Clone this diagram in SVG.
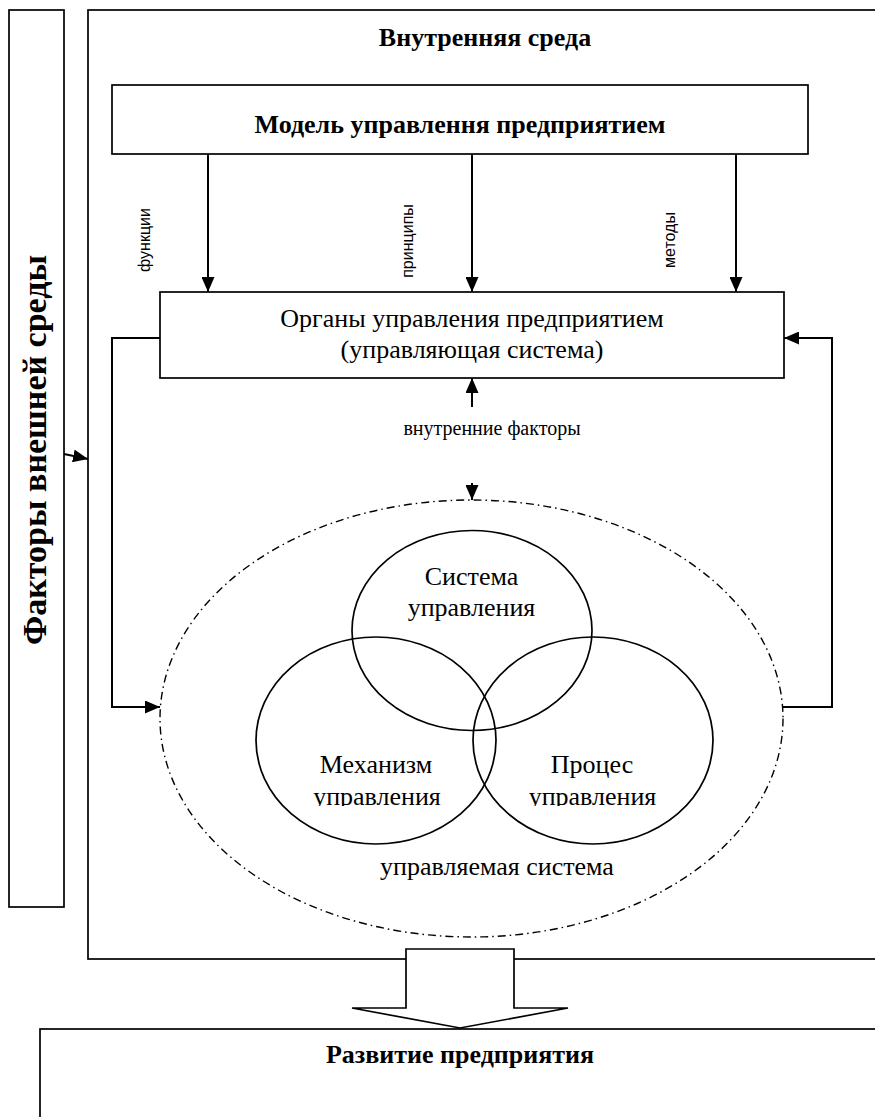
<svg xmlns="http://www.w3.org/2000/svg" width="875" height="1117" viewBox="0 0 875 1117">
<style>
.box{fill:#fff;stroke:#000;stroke-width:1.7}
.ell{fill:none;stroke:#000;stroke-width:1.7}
.dash{fill:none;stroke:#000;stroke-width:1.4;stroke-dasharray:8 4 1.5 4}
.ln{fill:none;stroke:#000;stroke-width:2}
.ser{font-family:"Liberation Serif","Times New Roman",serif;fill:#000}
.b{font-weight:bold}
.sans{font-family:"Liberation Sans",Arial,sans-serif;fill:#000;font-size:16px}
</style>
<defs>
<marker id="ah" viewBox="0 0 15 13" refX="15" refY="6.5" markerWidth="15" markerHeight="13" markerUnits="userSpaceOnUse" orient="auto">
<path d="M0,0 L15,6.5 L0,13 z" fill="#000"/>
</marker>
<clipPath id="cut"><rect x="0" y="0" width="875" height="806"/></clipPath>
</defs>

<g id="external">
<rect class="box" x="9" y="10" width="55" height="897"/>
<text class="ser b" font-size="34" text-anchor="middle" transform="translate(46,450) rotate(-90)">Факторы внешней среды</text>
</g>

<g id="internal">
<rect class="box" x="88" y="10" width="800" height="949"/>
<text class="ser b" font-size="26" x="485" y="46" text-anchor="middle">Внутренняя среда</text>
</g>

<g id="model">
<rect class="box" x="112" y="85" width="696" height="69"/>
<text class="ser b" font-size="26" x="460" y="133" text-anchor="middle">Модель управлення предприятием</text>
</g>

<g id="organs">
<rect class="box" x="160" y="292" width="624" height="86"/>
<text class="ser" font-size="26" x="472" y="327" text-anchor="middle">Органы управления предприятием</text>
<text class="ser" font-size="26" x="472" y="358" text-anchor="middle">(управляющая система)</text>
</g>

<g id="managed">
<ellipse class="dash" cx="471.5" cy="718.5" rx="311.5" ry="218.5"/>
<text class="ser" font-size="26" x="497" y="875" text-anchor="middle">управляемая система</text>
</g>

<g id="system">
<ellipse class="ell" cx="472" cy="630.5" rx="120" ry="100"/>
<text class="ser" font-size="26" x="471.5" y="585" text-anchor="middle">Система</text>
<text class="ser" font-size="26" x="471.5" y="616" text-anchor="middle">управления</text>
</g>

<g id="mechanism">
<ellipse class="ell" cx="376" cy="740.5" rx="120" ry="103.5"/>
<text class="ser" font-size="26" x="376" y="773" text-anchor="middle">Механизм</text>
<text class="ser" font-size="26" x="377" y="805" text-anchor="middle" clip-path="url(#cut)">управления</text>
</g>

<g id="process">
<ellipse class="ell" cx="593" cy="740.5" rx="120" ry="103.5"/>
<text class="ser" font-size="26" x="592" y="773" text-anchor="middle">Процес</text>
<text class="ser" font-size="26" x="592.5" y="805" text-anchor="middle" clip-path="url(#cut)">управления</text>
</g>

<g id="development">
<rect class="box" x="40" y="1029" width="900" height="200"/>
<text class="ser b" font-size="26" x="460" y="1063" text-anchor="middle">Развитие предприятия</text>
</g>

<g id="bigarrow">
<path class="box" d="M406,949 H514 V1008 H568 L460,1028 L352,1008 H406 Z"/>
</g>

<g id="connectors">
<path class="ln" d="M208,154 V292" marker-end="url(#ah)"/>
<path class="ln" d="M472,154 V292" marker-end="url(#ah)"/>
<path class="ln" d="M736,154 V292" marker-end="url(#ah)"/>
<path class="ln" d="M160,338 H112 V707 H160" marker-end="url(#ah)"/>
<path class="ln" d="M783,707 H832 V338 H784" marker-end="url(#ah)"/>
<path class="ln" d="M472,407 V378" marker-end="url(#ah)"/>
<path class="ln" d="M472,483 V500" marker-end="url(#ah)"/>
<path class="ln" d="M64,454 L88,459" marker-end="url(#ah)"/>
<text class="sans" transform="translate(150,240) rotate(-90)" text-anchor="middle">функции</text>
<text class="sans" transform="translate(413,241) rotate(-90)" text-anchor="middle">принципы</text>
<text class="sans" transform="translate(675,240) rotate(-90)" text-anchor="middle">методы</text>
<text class="ser" font-size="20" x="492" y="435" text-anchor="middle">внутренние факторы</text>
</g>
</svg>
